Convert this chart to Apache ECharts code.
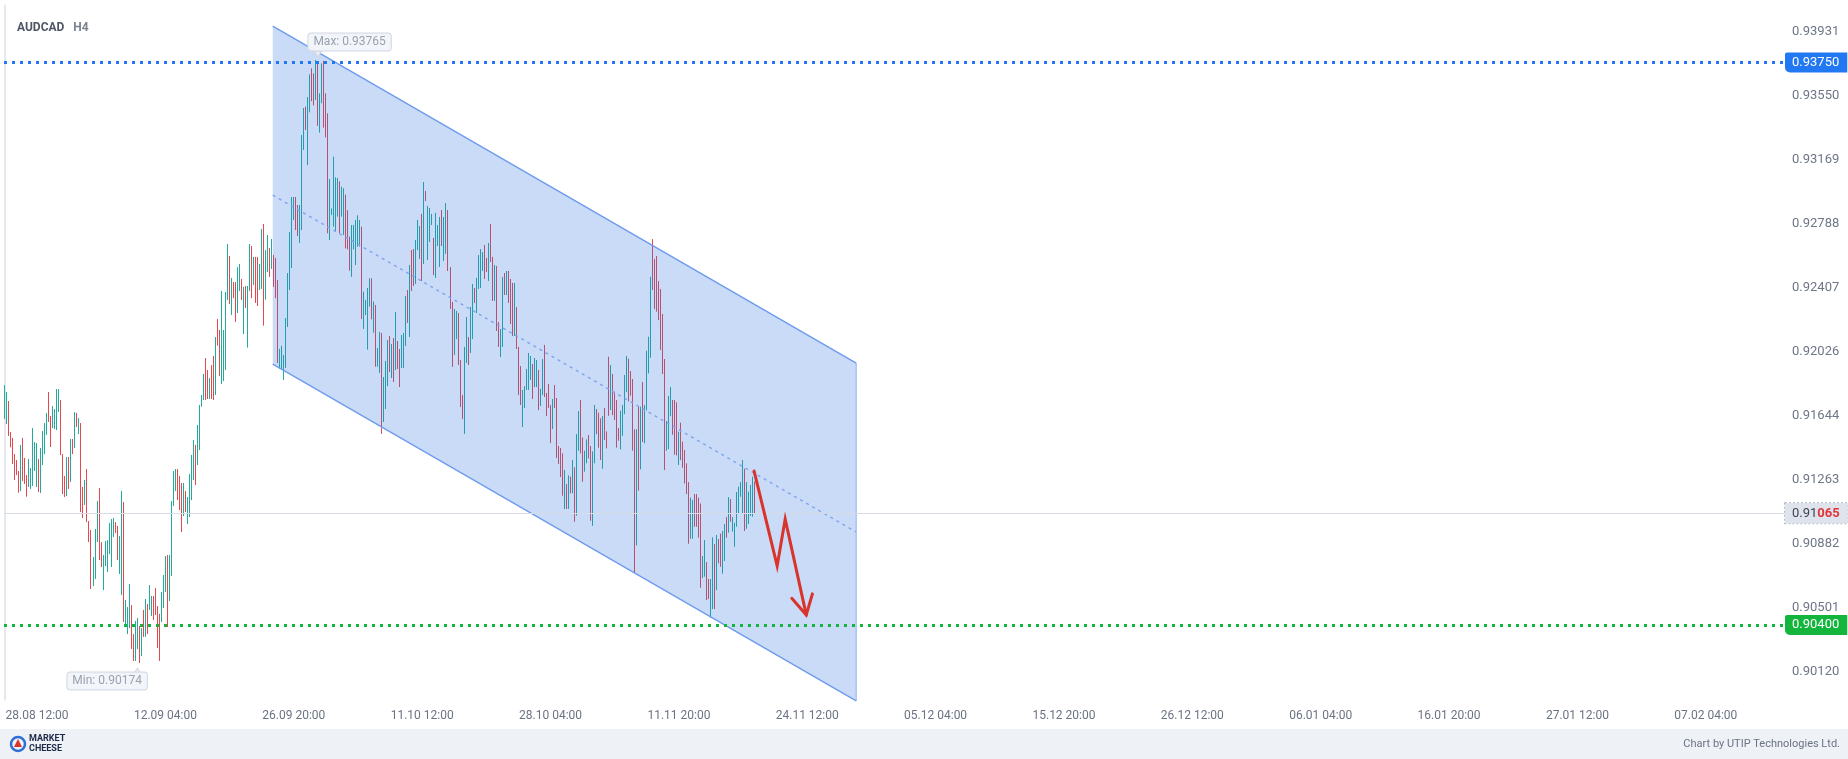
<!DOCTYPE html>
<html><head><meta charset="utf-8">
<script src="https://cdn.jsdelivr.net/npm/echarts@6/dist/echarts.min.js"></script>
<style>html,body{margin:0;padding:0;background:#fff}#c{width:1848px;height:759px}</style>
</head><body><div id="c"></div>
<script>
const symbolName = 'AUDCAD';
const timeframe = 'H4';
const xTickLabels = ['28.08 12:00','12.09 04:00','26.09 20:00','11.10 12:00','28.10 04:00','11.11 20:00','24.11 12:00','05.12 04:00','15.12 20:00','26.12 12:00','06.01 04:00','16.01 20:00','27.01 12:00','07.02 04:00'];
const firstLabelBar = 16, barsPerLabel = 64, totalBars = 888;
const yTickLabels = [0.93931,0.93550,0.93169,0.92788,0.92407,0.92026,0.91644,0.91263,0.90882,0.90501,0.90120];

const highs = [
.91829,.91788,.91734,.91549,.91514,.91418,.91383,.91317,.91472,.91514,
.91395,.91293,.91389,.91335,.91573,.9149,.91484,.91389,.91454,.91555,
.91603,.91663,.91788,.91645,.91704,.91686,.91805,.91805,.9174,.91418,
.91287,.914,.914,.91508,.91508,.91668,.91663,.91633,.91603,.91222,
.91264,.91329,.91019,.90966,.90805,.90972,.91138,.91216,.90894,.90817,
.909,.90906,.91007,.91031,.91037,.91013,.9099,.9093,.91198,.91133,
.90549,.90507,.90644,.90519,.90346,.90424,.90442,.90394,.90382,.9049,
.90555,.90525,.90638,.90573,.90573,.9062,.90513,.90466,.90597,.90698,
.90811,.90817,.90817,.91138,.91317,.91329,.91329,.91287,.91246,.91246,
.91198,.91162,.91299,.91413,.91502,.91473,.91591,.9171,.9177,.91895,
.9199,.91919,.91871,.91948,.92002,.92115,.92222,.92157,.92389,.92157,
.92383,.92669,.92598,.92467,.92443,.92443,.9253,.9255,.92461,.92413,
.92419,.92419,.92669,.92657,.92592,.92592,.92592,.9255,.92758,.92788,
.92633,.92723,.92645,.92699,.92604,.92586,.92455,.92044,.92062,.92008,
.92228,.92496,.9274,.92949,.92949,.92949,.92901,.92901,.93318,.93479,
.93487,.93544,.93679,.93715,.93685,.93765,.93741,.93566,.93745,.93759,
.93566,.93447,.93056,.92881,.93189,.93066,.93062,.93042,.9301,.93001,
.92963,.92871,.92713,.92782,.92782,.92812,.9284,.92812,.92772,.92385,
.92336,.92407,.92465,.92465,.92326,.92306,.9205,.92145,.92139,.91877,
.91972,.92097,.92121,.92073,.92109,.92264,.92091,.92044,.92127,.92139,
.92359,.92395,.92544,.92633,.92639,.92693,.92812,.92776,.92848,.93038,
.92985,.92895,.92883,.92848,.92705,.92854,.92782,.9283,.92871,.9283,
.92913,.92871,.92532,.92324,.92282,.9227,.92258,.91978,.9177,.92056,
.92234,.92115,.92294,.92431,.92407,.92467,.92603,.92639,.92621,.92663,
.92586,.92675,.92788,.92592,.92544,.92538,.92204,.92163,.92472,.92496,
.92508,.92508,.92461,.92437,.92437,.92294,.92056,.91942,.918,.91823,
.91925,.9202,.92002,.91954,.9199,.91978,.91919,.91806,.91984,.92068,
.91782,.91835,.9171,.91746,.91829,.91752,.91466,.91454,.91422,.91323,
.91239,.91291,.91283,.91382,.91339,.91537,.91674,.9174,.91517,.91438,
.91505,.91531,.91466,.91434,.9171,.91686,.91664,.91631,.91644,.91692,
.91553,.91998,.91948,.91895,.91789,.9174,.91573,.91676,.9171,.91889,
.92002,.91986,.91912,.91865,.91565,.91565,.917,.917,.91847,.9171,
.92033,.92117,.92474,.92698,.92579,.92597,.92448,.92401,.92252,.91984,
.91615,.91764,.91817,.9174,.9174,.91726,.91551,.91605,.91492,.91442,
.91363,.91251,.91158,.91144,.9118,.9118,.91158,.91124,.90811,.90906,
.90775,.90674,.90674,.90922,.90882,.90936,.90912,.90944,.9096,.91001,
.91043,.91162,.9115,.91043,.91009,.91192,.91224,.91251,.91382,.91331,
.91251,.91194,.91234,.91283,.91255];

const lows = [
.91627,.91597,.91526,.91458,.91359,.91264,.91293,.91188,.91198,.91258,
.9124,.91164,.91222,.9121,.91228,.91317,.91222,.91192,.91186,.91353,
.91418,.91532,.91609,.9146,.91573,.91567,.91561,.91668,.91412,.9118,
.91162,.91168,.9121,.91252,.91418,.91454,.91579,.91537,.91073,.91037,
.91115,.91013,.90894,.90614,.90632,.90674,.90894,.90787,.90745,.90608,
.90751,.90716,.90823,.90745,.90924,.90948,.90787,.90704,.90579,.90418,
.90388,.90346,.90382,.90257,.90186,.90186,.90257,.90174,.90215,.90329,
.90329,.90346,.9049,.90454,.9043,.9046,.90263,.90186,.90418,.90501,
.90597,.90388,.90543,.90692,.91109,.91198,.91144,.91085,.90954,.91049,
.91073,.91001,.91043,.91144,.91264,.91234,.91353,.91442,.917,.9174,
.9174,.91746,.91746,.91746,.9174,.9177,.92064,.91883,.91835,.91853,
.91919,.92336,.92312,.92246,.92347,.92205,.92258,.92389,.92336,.92133,
.92288,.92052,.92389,.92347,.92425,.92318,.923,.92395,.92401,.92183,
.92338,.92502,.92473,.9252,.92413,.92347,.9196,.91925,.91921,.91859,
.91931,.92175,.92395,.92526,.92812,.92752,.92717,.92675,.92752,.93229,
.93348,.93139,.93453,.93519,.93495,.93527,.93372,.93332,.93507,.93362,
.93304,.92733,.92693,.92842,.92772,.92742,.92832,.92733,.92832,.92723,
.92643,.92637,.9251,.92474,.92637,.92544,.92653,.92653,.92222,.92163,
.92246,.9204,.92296,.9222,.92141,.91938,.91938,.91901,.91538,.91609,
.91686,.91823,.91907,.91871,.91847,.91919,.91925,.91817,.91931,.91931,
.92062,.92199,.92115,.92389,.92419,.92431,.92633,.9258,.92449,.9255,
.92925,.92574,.92681,.92782,.92484,.92467,.92657,.92532,.92657,.92568,
.9261,.92508,.92282,.91937,.92008,.92103,.91948,.91698,.91627,.91538,
.9196,.91948,.9202,.92103,.92318,.92258,.92401,.92407,.92508,.92461,
.92502,.92449,.92562,.9233,.9233,.92151,.92056,.91996,.92056,.92365,
.92365,.92318,.92193,.92121,.92121,.92044,.9177,.9171,.91579,.91692,
.918,.918,.91859,.91746,.91817,.91817,.9168,.91704,.9177,.91758,
.91645,.91692,.91484,.91567,.91692,.91395,.91359,.91281,.9117,.91091,
.91091,.91091,.91184,.91184,.91015,.91051,.91438,.91422,.91253,.91313,
.91363,.91392,.91021,.90991,.91363,.91537,.91456,.91382,.91331,.91501,
.91452,.91646,.9168,.9165,.91621,.91456,.91498,.91446,.91527,.91656,
.91787,.91732,.91766,.91438,.90711,.90874,.912,.91327,.9149,.91482,
.91678,.91898,.91992,.92395,.92282,.92266,.92216,.92037,.91895,.91323,
.91438,.91448,.91644,.91533,.91414,.9141,.91353,.91382,.91337,.91243,
.9118,.90884,.90914,.90914,.90985,.90985,.9092,.90622,.9068,.90688,
.90549,.90555,.90442,.90495,.90495,.90608,.90767,.90747,.90706,.90781,
.9092,.9095,.91015,.90956,.90866,.90985,.91065,.91164,.91065,.9096,
.90973,.91001,.91049,.91045,.91065];

// 1 = bullish (teal), 0 = bearish (red)
const dirs = [
1,1,0,0,0,0,0,0,1,0, 0,0,1,1,1,1,1,0,1,1, 1,1,0,0,1,1,1,1,0,0, 0,1,0,1,0,1,0,1,0,0,
1,0,0,0,1,1,1,0,0,1, 1,1,1,1,1,0,0,1,1,0, 1,1,1,0,0,1,1,0,1,0, 1,0,1,1,0,0,0,0,1,1,
1,0,1,1,1,1,0,0,0,1, 0,1,1,1,1,0,1,1,1,1, 0,0,1,0,0,1,0,0,1,1, 1,1,0,1,0,0,1,1,0,1,
0,1,1,0,1,0,0,1,1,0, 1,1,0,1,0,0,0,1,1,1, 1,1,1,1,1,0,0,1,1,1, 0,1,1,0,0,1,0,1,1,0,
0,0,1,1,1,1,1,0,1,1, 0,0,0,1,1,1,1,1,0,1, 1,1,1,0,1,0,1,1,0,1, 1,1,0,1,0,1,0,0,1,1,
1,0,1,0,0,1,1,1,0,1, 0,1,1,1,0,1,1,1,0,1, 1,0,0,0,1,1,0,0,0,1, 1,0,1,1,0,1,1,1,1,0,
0,1,0,0,1,0,0,1,1,0, 1,0,0,0,1,0,0,0,1,1, 1,1,1,0,1,1,0,1,1,0, 0,0,0,1,0,0,0,0,0,1,
0,1,0,1,0,1,1,0,0,1, 1,0,0,1,1,0,0,0,1,0, 0,0,1,0,0,0,0,1,1,1, 1,0,0,0,0,1,0,1,0,1,
1,1,1,0,0,0,0,0,0,0, 1,1,1,0,0,0,1,0,0,0, 0,0,1,1,0,0,0,0,1,1, 0,0,1,1,0,1,0,0,1,1,
0,1,0,1,1,1,1,1,1,0, 1,1,1,1,0];

const levelHigh = 0.93750;
const levelLow = 0.90400;
// channel (bar index, price)
const channelX = [133.5, 424.4];
const channelTop = [0.93967, 0.91960];
const channelBottom = [0.91954, 0.89948];
// forecast arrow (bar index, price)
const arrowX = [373.5, 385.0, 389.0, 399.5];
const arrowY = [0.91317, 0.90752, 0.91031, 0.90460];

const UP = '#22ab9b', DOWN = '#e5484d';
const categories = [];
for (let i = 0; i < totalBars; i++) {
  const k = i - firstLabelBar;
  categories.push(k >= 0 && k % barsPerLabel === 0 ? (xTickLabels[k / barsPerLabel] || '') : '');
}
const candles = highs.map((h, i) => dirs[i] ? [lows[i], h, lows[i], h] : [h, lows[i], lows[i], h]);
const last = candles[candles.length - 1];
const lastClose = last[1];
let maxIdx = 0, minIdx = 0;
highs.forEach((h, i) => { if (h > highs[maxIdx]) maxIdx = i; });
lows.forEach((l, i) => { if (l < lows[minIdx]) minIdx = i; });
const lastStr = lastClose.toFixed(5);
const Y_MIN = 0.899535, Y_MAX = 0.940922;

const chart = echarts.init(document.getElementById('c'));
const tagBase = { show: true, position: 'end', distance: 0, fontSize: 13, fontFamily: 'Roboto', padding: [3, 8, 3, 7], lineHeight: 14 };
const boxBg = 'rgba(241,244,250,0.95)', boxBorder = '#d3d8e1';
chart.setOption({
  animation: false,
  textStyle: { fontFamily: 'Roboto' },
  title: {
    text: '{a|' + symbolName + '}  {b|' + timeframe + '}', left: 12, top: 14,
    textStyle: { rich: { a: { fontSize: 12, fontWeight: 'bold', color: '#4f5766', fontFamily: 'Roboto' }, b: { fontSize: 12, color: '#7a8291', fontFamily: 'Roboto' } } }
  },
  grid: { left: 4, right: 63, top: 5, bottom: 59 },
  xAxis: [{
    type: 'category', data: categories, boundaryGap: true,
    axisLine: { show: false }, axisTick: { show: false }, splitLine: { show: false },
    axisLabel: { interval: (i) => categories[i] !== '', color: '#6b7383', fontSize: 12, margin: 10, fontFamily: 'Roboto' }
  }, {
    type: 'value', min: -0.5, max: totalBars - 0.5, show: false
  }],
  yAxis: [{
    type: 'value', position: 'right', min: Y_MIN, max: Y_MAX,
    axisLine: { show: true, lineStyle: { color: '#e3e6ec' } },
    axisTick: { show: false }, splitLine: { show: false },
    axisLabel: { customValues: yTickLabels, formatter: (v) => v.toFixed(5), color: '#6e7687', fontSize: 13, margin: 7, fontFamily: 'Roboto' }
  }, {
    type: 'value', position: 'left', min: Y_MIN, max: Y_MAX,
    axisLine: { show: true, lineStyle: { color: '#e8eaef' } },
    axisTick: { show: false }, splitLine: { show: false }, axisLabel: { show: false }
  }],
  series: [{
    type: 'candlestick', xAxisIndex: 0, yAxisIndex: 0, data: candles, barWidth: 1, z: 2,
    itemStyle: { color: UP, color0: DOWN, borderColor: UP, borderColor0: DOWN, borderWidth: 1 },
    markPoint: {
      silent: true, animation: false, symbol: 'circle', symbolSize: 1, itemStyle: { color: 'rgba(0,0,0,0)' },
      label: { show: true, fontSize: 12, color: '#9ba2ae', backgroundColor: boxBg, borderColor: boxBorder, borderWidth: 1, borderRadius: 3, padding: [3, 5, 2, 5], fontFamily: 'Roboto' },
      data: [
        { coord: [maxIdx, highs[maxIdx]], label: { formatter: 'Max: ' + highs[maxIdx].toFixed(5), position: [-7, -26] } },
        { coord: [minIdx, lows[minIdx]], label: { formatter: 'Min: ' + lows[minIdx].toFixed(5), position: [8, 10], align: 'right' } },
        { coord: [maxIdx, highs[maxIdx]], symbol: 'triangle', symbolSize: [7, 5], symbolRotate: 180, symbolOffset: [2, -6],
          itemStyle: { color: boxBg, borderColor: boxBorder, borderWidth: 1 }, label: { show: false } },
        { coord: [minIdx, lows[minIdx]], symbol: 'triangle', symbolSize: [7, 5], symbolOffset: [-2, 8],
          itemStyle: { color: boxBg, borderColor: boxBorder, borderWidth: 1 }, label: { show: false } }
      ]
    }
  }, {
    type: 'line', xAxisIndex: 1, yAxisIndex: 0, data: [], z: 6, silent: true,
    markLine: {
      silent: true, symbol: ['none', 'none'], animation: false, precision: 5,
      data: [
        { yAxis: lastClose, lineStyle: { color: '#d7dbe3', width: 1, type: 'solid' },
          label: Object.assign({}, tagBase, { formatter: '{a|' + lastStr.slice(0, 4) + '}{b|' + lastStr.slice(4) + '}', backgroundColor: '#dfe3eb', borderColor: '#b3bbc9', borderWidth: 1, borderType: 'dotted',
            rich: { a: { color: '#3d4452', fontSize: 13, fontFamily: 'Roboto' }, b: { color: '#e0353b', fontSize: 13, fontWeight: 'bold', fontFamily: 'Roboto' } } }) },
        { yAxis: levelHigh, lineStyle: { color: '#2277f2', width: 3, type: [3, 5] },
          label: Object.assign({}, tagBase, { formatter: levelHigh.toFixed(5), color: '#fff', backgroundColor: '#2277f2', borderRadius: [2, 0, 0, 5] }) },
        { yAxis: levelLow, lineStyle: { color: '#14b53c', width: 3, type: [3, 5] },
          label: Object.assign({}, tagBase, { formatter: levelLow.toFixed(5), color: '#fff', backgroundColor: '#14b53c', borderRadius: [2, 0, 0, 5] }) }
      ]
    }
  }, {
    type: 'custom', xAxisIndex: 1, yAxisIndex: 0, z: 3, silent: true,
    data: [[channelX[0], channelTop[0]]], encode: { x: 0, y: 1 },
    renderItem: function (params, api) {
      const tl = api.coord([channelX[0], channelTop[0]]);
      const tr = api.coord([channelX[1], channelTop[1]]);
      const br = api.coord([channelX[1], channelBottom[1]]);
      const bl = api.coord([channelX[0], channelBottom[0]]);
      const ml = api.coord([channelX[0], (channelTop[0] + channelBottom[0]) / 2]);
      const mr = api.coord([channelX[1], (channelTop[1] + channelBottom[1]) / 2]);
      const edge = { stroke: '#6e9bee', lineWidth: 1.4, fill: null };
      return { type: 'group', children: [
        { type: 'polygon', shape: { points: [tl, tr, br, bl] }, style: { fill: 'rgba(40,110,225,0.25)' } },
        { type: 'polyline', shape: { points: [tl, tr] }, style: edge },
        { type: 'polyline', shape: { points: [bl, br] }, style: edge },
        { type: 'polyline', shape: { points: [tr, br] }, style: { stroke: '#8fb2f2', lineWidth: 1, fill: null } },
        { type: 'polyline', shape: { points: [ml, mr] }, style: { stroke: '#7fa5ee', lineWidth: 1.4, lineDash: [3, 4], fill: null } }
      ] };
    }
  }, {
    type: 'custom', xAxisIndex: 1, yAxisIndex: 0, z: 5, silent: true,
    data: [[arrowX[0], arrowY[0]]], encode: { x: 0, y: 1 },
    renderItem: function (params, api) {
      const pts = arrowX.map((x, i) => api.coord([x, arrowY[i]]));
      const a = pts[pts.length - 2], b = pts[pts.length - 1];
      const ang = Math.atan2(b[1] - a[1], b[0] - a[0]);
      const L = 22, w = 0.5;
      const w1 = [b[0] - L * Math.cos(ang - w), b[1] - L * Math.sin(ang - w)];
      const w2 = [b[0] - L * Math.cos(ang + w), b[1] - L * Math.sin(ang + w)];
      const st = { stroke: '#d8342b', lineWidth: 3, fill: null, lineJoin: 'miter', lineCap: 'round' };
      return { type: 'group', children: [
        { type: 'polyline', shape: { points: pts }, style: st },
        { type: 'polyline', shape: { points: [w1, b, w2] }, style: st }
      ] };
    }
  }],
  graphic: [
    { type: 'rect', shape: { x: 0, y: 729, width: 1848, height: 30 }, style: { fill: '#eef1f6' }, z: 0 },
    { type: 'circle', shape: { cx: 18, cy: 744, r: 7 }, style: { fill: null, stroke: '#2f6fd8', lineWidth: 2.5 }, z: 1 },
    { type: 'polygon', shape: { points: [[14, 747], [18, 739], [22, 747]] }, style: { fill: '#d8342b' }, z: 1 },
    { type: 'text', style: { x: 29, y: 739, text: 'MARKET', font: 'bold 9px Roboto', fill: '#1d2a48', verticalAlign: 'middle' }, z: 1 },
    { type: 'text', style: { x: 29, y: 749, text: 'CHEESE', font: 'bold 9px Roboto', fill: '#1d2a48', verticalAlign: 'middle' }, z: 1 },
    { type: 'text', style: { x: 1840, y: 744, text: 'Chart by UTIP Technologies Ltd.', font: '11px Roboto', fill: '#6b7383', align: 'right', verticalAlign: 'middle' }, z: 1 }
  ]
});
</script></body></html>
